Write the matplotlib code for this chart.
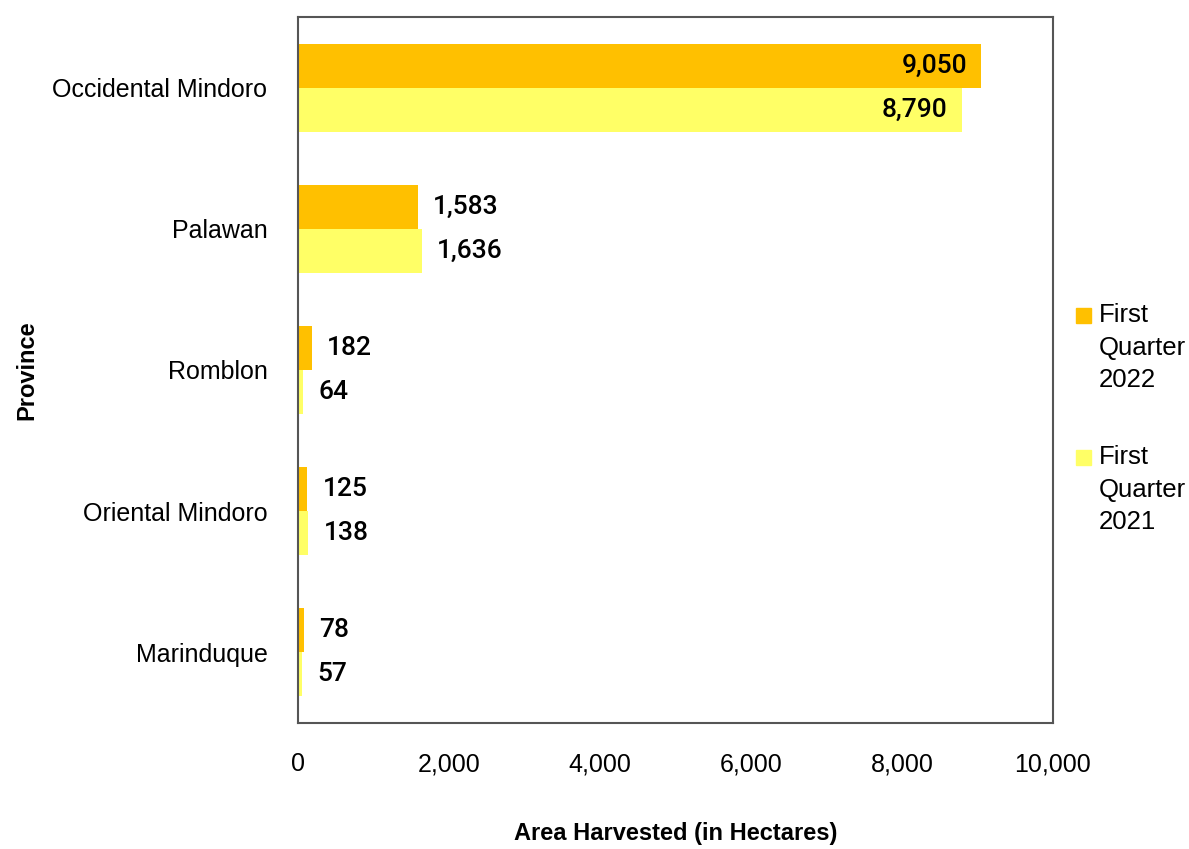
import matplotlib
matplotlib.use("Agg")
import matplotlib.pyplot as plt
import numpy as np
from matplotlib.patches import Rectangle

provinces = ["Occidental Mindoro", "Palawan", "Romblon", "Oriental Mindoro", "Marinduque"]
q1_2022 = [9050, 1583, 182, 125, 78]
q1_2021 = [8790, 1636, 64, 138, 57]
series_labels = ["First\nQuarter\n2022", "First\nQuarter\n2021"]
xticks = [0, 2000, 4000, 6000, 8000, 10000]

c22 = "#FFC000"
c21 = "#FFFF66"

tick_font = ["Liberation Sans", "DejaVu Sans"]
lab_font = ["Roboto", "DejaVu Sans"]

W, H = 1189, 849
fig = plt.figure(figsize=(W/100, H/100), dpi=100)
ax = fig.add_axes([298/W, 1-723/H, (1053-298)/W, (723-17)/H])

n = len(provinces)
y = np.arange(n)
h = 0.312
ax.barh(y - h/2, q1_2022, height=h, color=c22)
ax.barh(y + h/2, q1_2021, height=h, color=c21)

ax.set_xlim(0, 10000)
ax.set_ylim(n - 0.5, -0.5)
ax.set_yticks(y)
ax.set_yticklabels(provinces, fontsize=18, family=tick_font)
ax.set_xticks(xticks)
ax.set_xticklabels([f"{v:,}" for v in xticks], fontsize=18, family=tick_font)
ax.tick_params(axis="both", length=0)
ax.tick_params(axis="x", pad=21)
ax.tick_params(axis="y", pad=22)

for s in ax.spines.values():
    s.set_color("#555555")
    s.set_linewidth(1.5)

for vals, off in ((q1_2022, -h/2), (q1_2021, h/2)):
    for i, v in enumerate(vals):
        if v > 5000:
            ax.annotate(f"{v:,}", (v, i + off), xytext=(-10, 0), textcoords="offset points",
                        ha="right", va="center", fontsize=19, family=lab_font, fontweight="medium")
        else:
            ax.annotate(f"{v:,}", (v, i + off), xytext=(11, 0), textcoords="offset points",
                        ha="left", va="center", fontsize=19, family=lab_font, fontweight="medium")

ax.set_xlabel("Area Harvested (in Hectares)", fontsize=17, fontweight="bold",
              family=tick_font, labelpad=33)
ax.set_ylabel("Province", fontsize=17, fontweight="bold", family=tick_font)
ax.yaxis.set_label_coords((38 - 298) / 755, 0.5)

# legend drawn manually so the swatch sits beside the first line
legend_tops = [303, 445]
for col, lab, top in zip((c22, c21), series_labels, legend_tops):
    fig.patches.append(Rectangle((1076/W, 1-(top+20)/H), 15/W, 15/H,
                                 transform=fig.transFigure, color=col))
    fig.text(1099/W, 1-top/H, lab, fontsize=18.5, family=tick_font, va="top", ha="left",
             linespacing=1.45)

fig.savefig("out.png", dpi=100)
